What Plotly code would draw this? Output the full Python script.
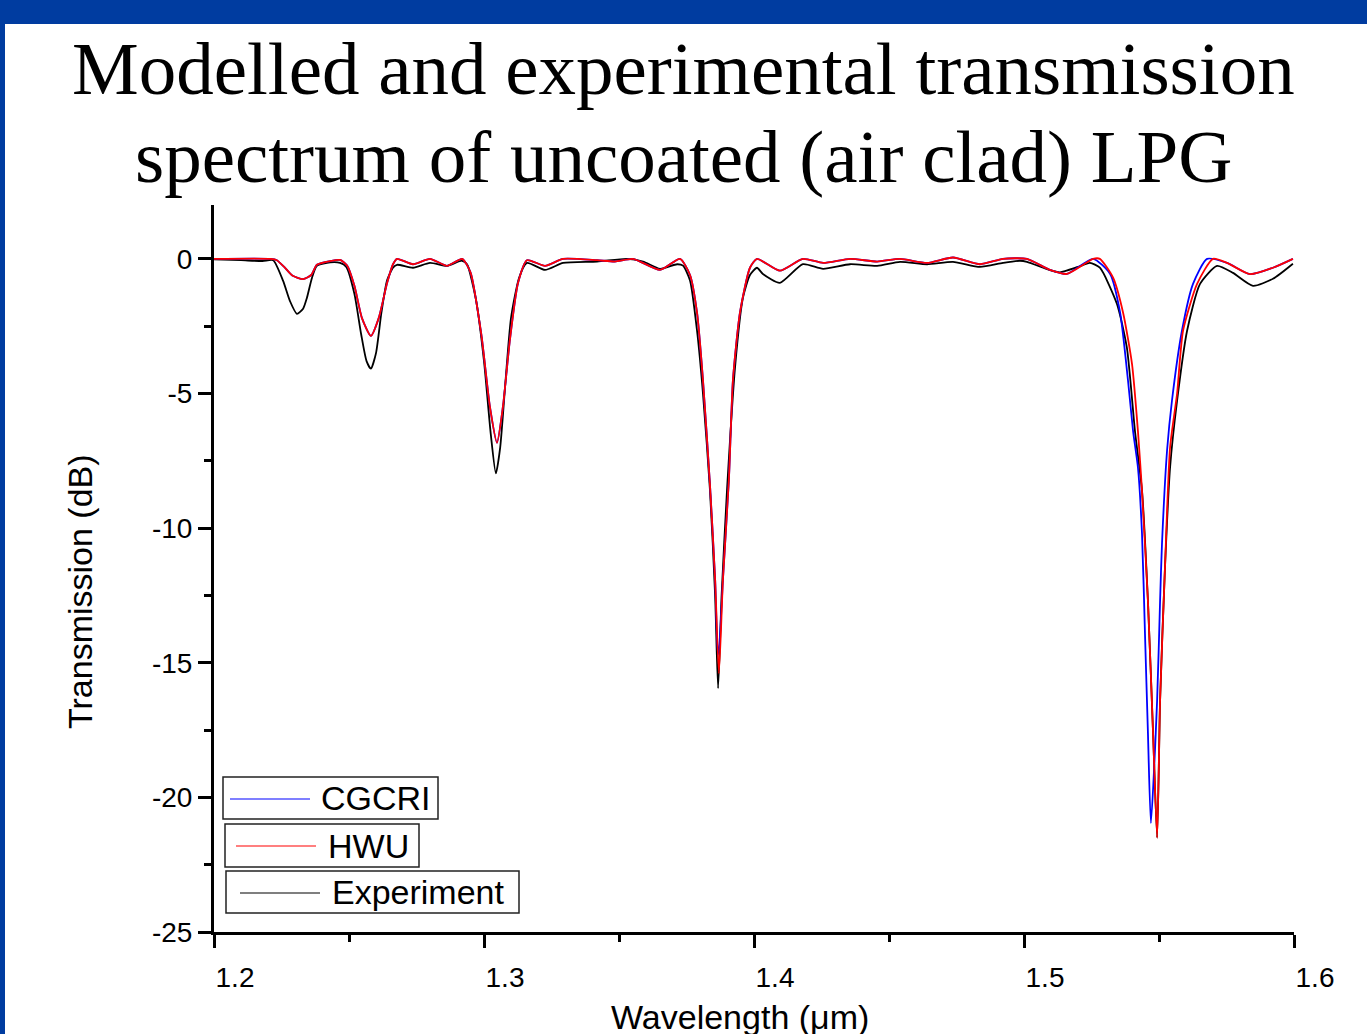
import plotly.graph_objects as go

# ---------------- data (wavelength in um, transmission in dB) ----------------
exp_wl = [1.2000, 1.2100, 1.2180, 1.2219, 1.2256, 1.2281, 1.2307, 1.2330, 1.2344, 1.2363,
          1.2381, 1.2430, 1.2467, 1.2490, 1.2520, 1.2545, 1.2565, 1.2581, 1.2600, 1.2620,
          1.2641, 1.2663, 1.2678, 1.2737, 1.2800, 1.2863, 1.2919, 1.2937, 1.2970, 1.3000,
          1.3025, 1.3044, 1.3060, 1.3080, 1.3100, 1.3130, 1.3159, 1.3226, 1.3293, 1.3419,
          1.3530, 1.3589, 1.3652, 1.3715, 1.3737, 1.3763, 1.3789, 1.3811, 1.3837, 1.3856,
          1.3867, 1.3880, 1.3900, 1.3930, 1.3959, 1.3985, 1.4011, 1.4033, 1.4096, 1.4181,
          1.4256, 1.4356, 1.4456, 1.4541, 1.4641, 1.4737, 1.4837, 1.4922, 1.4985, 1.5011,
          1.5096, 1.5133, 1.5200, 1.5244, 1.5281, 1.5344, 1.5381, 1.5411, 1.5437, 1.5459,
          1.5478, 1.5493, 1.5504, 1.5522, 1.5541, 1.5567, 1.5604, 1.5652, 1.5715, 1.5774,
          1.5848, 1.5922, 1.5996]
exp_db = [-0.02, -0.05, -0.08, -0.05, -0.82, -1.56, -2.04, -1.85, -1.45, -0.70,
          -0.26, -0.13, -0.15, -0.30, -1.30, -2.80, -3.80, -4.08, -3.50, -2.00,
          -0.80, -0.33, -0.22, -0.33, -0.15, -0.26, -0.07, -0.20, -1.50, -3.80,
          -6.50, -7.97, -7.00, -4.50, -2.20, -0.70, -0.15, -0.41, -0.15, -0.10,
          0.00, -0.10, -0.37, -0.20, -0.25, -0.80, -2.67, -5.00, -8.60, -12.50,
          -15.95, -12.50, -8.60, -4.00, -1.45, -0.60, -0.33, -0.56, -0.89, -0.20,
          -0.37, -0.20, -0.26, -0.11, -0.20, -0.11, -0.30, -0.15, -0.07, -0.11,
          -0.42, -0.50, -0.30, -0.15, -0.33, -1.67, -3.30, -6.40, -8.60, -12.70,
          -17.60, -21.50, -16.40, -11.50, -7.75, -5.27, -2.67, -0.93, -0.26, -0.52,
          -1.00, -0.74, -0.18]

hwu_wl = [1.2000, 1.2210, 1.2233, 1.2260, 1.2290, 1.2330, 1.2360, 1.2381, 1.2430, 1.2467,
          1.2493, 1.2520, 1.2548, 1.2581, 1.2610, 1.2641, 1.2663, 1.2678, 1.2737, 1.2800,
          1.2863, 1.2919, 1.2950, 1.2990, 1.3022, 1.3048, 1.3070, 1.3096, 1.3126, 1.3159,
          1.3226, 1.3293, 1.3419, 1.3485, 1.3552, 1.3652, 1.3726, 1.3763, 1.3789, 1.3811,
          1.3837, 1.3856, 1.3870, 1.3885, 1.3907, 1.3922, 1.3948, 1.3985, 1.4011, 1.4096,
          1.4181, 1.4256, 1.4356, 1.4456, 1.4541, 1.4641, 1.4737, 1.4837, 1.4922, 1.5011,
          1.5096, 1.5159, 1.5256, 1.5281, 1.5330, 1.5367, 1.5400, 1.5422, 1.5437, 1.5459,
          1.5478, 1.5493, 1.5504, 1.5522, 1.5541, 1.5567, 1.5589, 1.5641, 1.5700, 1.5752,
          1.5837, 1.5922, 1.5996]
hwu_db = [0.00, 0.00, -0.05, -0.30, -0.62, -0.75, -0.60, -0.22, -0.08, -0.04,
          -0.25, -1.00, -2.20, -2.86, -2.20, -0.90, -0.20, 0.00, -0.20, 0.00,
          -0.26, 0.00, -0.50, -2.80, -5.50, -6.83, -5.50, -3.00, -0.90, -0.05,
          -0.26, 0.00, -0.05, -0.10, 0.00, -0.41, 0.00, -0.60, -2.00, -4.50,
          -8.40, -11.90, -15.40, -11.90, -8.20, -4.50, -2.00, -0.33, 0.00, -0.44,
          0.00, -0.15, 0.00, -0.10, 0.00, -0.15, 0.05, -0.20, 0.00, 0.00,
          -0.41, -0.56, 0.00, 0.00, -0.70, -2.00, -3.90, -6.40, -8.60, -12.70,
          -17.60, -21.50, -16.40, -11.50, -7.00, -5.00, -2.67, -0.93, 0.00, -0.15,
          -0.57, -0.33, 0.00]

cgcri_wl = [1.2000, 1.2210, 1.2233, 1.2260, 1.2290, 1.2330, 1.2360, 1.2381, 1.2430, 1.2467,
            1.2493, 1.2520, 1.2548, 1.2581, 1.2610, 1.2641, 1.2663, 1.2678, 1.2737, 1.2800,
            1.2863, 1.2919, 1.2950, 1.2990, 1.3022, 1.3048, 1.3070, 1.3096, 1.3126, 1.3159,
            1.3226, 1.3293, 1.3419, 1.3485, 1.3552, 1.3652, 1.3726, 1.3763, 1.3789, 1.3811,
            1.3837, 1.3856, 1.3866, 1.3872, 1.3885, 1.3907, 1.3922, 1.3948, 1.3985, 1.4011,
            1.4096, 1.4181, 1.4256, 1.4356, 1.4456, 1.4541, 1.4641, 1.4737, 1.4837, 1.4922,
            1.5011, 1.5096, 1.5159, 1.5256, 1.5319, 1.5356, 1.5385, 1.5404, 1.5422, 1.5437,
            1.5448, 1.5459, 1.5470, 1.5493, 1.5504, 1.5511, 1.5530, 1.5548, 1.5585, 1.5626,
            1.5678, 1.5752, 1.5837, 1.5922, 1.5996]
cgcri_db = [0.00, 0.00, -0.05, -0.30, -0.62, -0.75, -0.60, -0.22, -0.08, -0.04,
            -0.25, -1.00, -2.20, -2.86, -2.20, -0.90, -0.20, 0.00, -0.20, 0.00,
            -0.26, 0.00, -0.50, -2.80, -5.50, -6.83, -5.50, -3.00, -0.90, -0.05,
            -0.26, 0.00, -0.05, -0.10, 0.00, -0.41, 0.00, -0.60, -2.00, -4.50,
            -8.40, -11.90, -14.70, -14.30, -11.90, -8.20, -4.50, -2.00, -0.33, 0.00,
            -0.44, 0.00, -0.15, 0.00, -0.10, 0.00, -0.15, 0.05, -0.20, 0.00,
            0.00, -0.41, -0.56, 0.00, -0.56, -2.00, -4.50, -6.40, -7.75, -10.20,
            -13.90, -17.60, -20.96, -16.40, -12.70, -10.60, -7.10, -5.27, -2.67, -0.93,
            0.00, -0.15, -0.57, -0.33, 0.00]

series_names = ["CGCRI", "HWU", "Experiment"]
series_colors = ["#0000FF", "#FF0000", "#000000"]

x_tickvals = [1.2, 1.3, 1.4, 1.5, 1.6]
x_ticktext = ["1.2", "1.3", "1.4", "1.5", "1.6"]
y_tickvals = [0, -5, -10, -15, -20, -25]
y_ticktext = ["0", "-5", "-10", "-15", "-20", "-25"]

# ---------------- layout helpers (pixel -> paper) ----------------
L, R, T, B = 214, 1294, 205, 932
W, H = 1367, 1034


def px(xp):
    return (xp - L) / (R - L)


def py(yp):
    return (B - yp) / (B - T)


fig = go.Figure()

data = {
    "CGCRI": (cgcri_wl, cgcri_db),
    "HWU": (hwu_wl, hwu_db),
    "Experiment": (exp_wl, exp_db),
}
for name in ["Experiment", "CGCRI", "HWU"]:
    i = series_names.index(name)
    wl, db = data[name]
    fig.add_trace(go.Scatter(
        x=wl, y=db, mode="lines", name=name, showlegend=False,
        line=dict(color=series_colors[i], width=1.8, shape="spline", smoothing=0.6),
    ))

axis_font = dict(family="Liberation Sans, Arial, sans-serif", size=28, color="#000")

fig.update_xaxes(
    range=[1.2, 1.6], tickvals=x_tickvals, ticktext=x_ticktext,
    showgrid=False, zeroline=False, showline=True, linecolor="#000", linewidth=3,
    ticks="outside", ticklen=13, tickwidth=2.5, tickcolor="#000",
    minor=dict(dtick=0.05, ticks="outside", ticklen=7, tickwidth=2.5, tickcolor="#000", showgrid=False),
    tickfont=axis_font, ticklabelshift=21, ticklabelstandoff=5,
)
fig.update_yaxes(
    range=[-25, 2], tickvals=y_tickvals, ticktext=y_ticktext,
    showgrid=False, zeroline=False, showline=True, linecolor="#000", linewidth=3,
    ticks="outside", ticklen=13, tickwidth=2.5, tickcolor="#000",
    minor=dict(tickvals=[-2.5, -7.5, -12.5, -17.5, -22.5], ticks="outside", ticklen=7,
               tickwidth=2.5, tickcolor="#000", showgrid=False),
    tickfont=axis_font,
)

shapes = []
# blue frame pieces
frame_blue = "#003CA0"
shapes.append(dict(type="rect", xref="paper", yref="paper", x0=px(0), x1=px(W), y0=py(24), y1=py(0),
                   fillcolor=frame_blue, line=dict(width=0), layer="above"))
shapes.append(dict(type="rect", xref="paper", yref="paper", x0=px(0), x1=px(5), y0=py(H), y1=py(0),
                   fillcolor=frame_blue, line=dict(width=0), layer="above"))

# custom legend boxes
legend_boxes = [(223, 438, 777, 819), (225, 419, 824, 867), (226, 519, 871, 913)]
legend_lines = [(230, 310, 799), (236, 316, 846), (240, 320, 893)]
legend_text = [(319, 798), (326, 846), (330, 892)]
annotations = []
for i, name in enumerate(series_names):
    x0, x1, y0, y1 = legend_boxes[i]
    shapes.append(dict(type="rect", xref="paper", yref="paper", x0=px(x0), x1=px(x1), y0=py(y1), y1=py(y0),
                       line=dict(color="#222", width=1.5), fillcolor="rgba(255,255,255,0)"))
    lx0, lx1, ly = legend_lines[i]
    shapes.append(dict(type="line", xref="paper", yref="paper", x0=px(lx0), x1=px(lx1), y0=py(ly), y1=py(ly),
                       line=dict(color=series_colors[i], width=1.2)))
    tx, ty = legend_text[i]
    annotations.append(dict(text=name, xref="paper", yref="paper", x=px(tx), y=py(ty),
                            xanchor="left", yanchor="middle", showarrow=False,
                            font=dict(family="Liberation Sans, Arial, sans-serif", size=34, color="#000")))

# title lines
title_font = dict(family="Liberation Serif, Times New Roman, serif", size=75, color="#000")
annotations.append(dict(text="Modelled and experimental transmission", xref="paper", yref="paper",
                        x=px(683), y=py(69), xanchor="center", yanchor="middle", showarrow=False,
                        font=title_font))
annotations.append(dict(text="spectrum of uncoated (air clad) LPG", xref="paper", yref="paper",
                        x=px(684), y=py(157), xanchor="center", yanchor="middle", showarrow=False,
                        font=title_font))
# axis titles
annotations.append(dict(text="Wavelength (μm)", xref="paper", yref="paper", x=px(740), y=py(1017),
                        xanchor="center", yanchor="middle", showarrow=False,
                        font=dict(family="Liberation Sans, Arial, sans-serif", size=34, color="#000")))
annotations.append(dict(text="Transmission (dB)", xref="paper", yref="paper", x=px(80), y=py(592),
                        xanchor="center", yanchor="middle", showarrow=False, textangle=-90,
                        font=dict(family="Liberation Sans, Arial, sans-serif", size=34, color="#000")))

fig.update_layout(
    width=W, height=H,
    margin=dict(l=L, r=W - R, t=T, b=H - B, pad=0),
    paper_bgcolor="#FFFFFF", plot_bgcolor="#FFFFFF",
    shapes=shapes, annotations=annotations,
    showlegend=False,
)

fig.write_html("out.html")
